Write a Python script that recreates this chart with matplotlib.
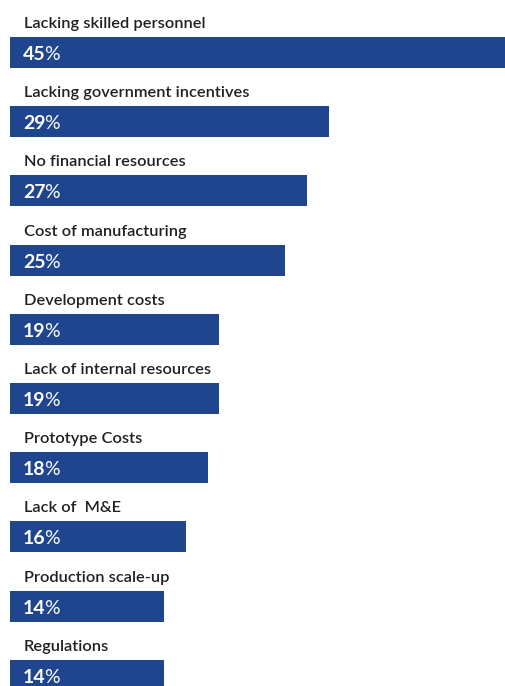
import matplotlib
matplotlib.use("Agg")
import matplotlib.pyplot as plt

categories = [
    "Lacking skilled personnel",
    "Lacking government incentives",
    "No financial resources",
    "Cost of manufacturing",
    "Development costs",
    "Lack of internal resources",
    "Prototype Costs",
    "Lack of  M&E",
    "Production scale-up",
    "Regulations",
]
values = [45, 29, 27, 25, 19, 19, 18, 16, 14, 14]

BAR_COLOR = "#1F458F"
TEXT_COLOR = "#231F20"
W, H, DPI = 505, 686, 100

fig = plt.figure(figsize=(W / DPI, H / DPI), dpi=DPI)
ax = fig.add_axes([0, 0, 1, 1])
ax.set_xlim(-10 / 11, 45)
ax.set_ylim(H, 0)
ax.axis("off")

pitch = 69.2
first_top = 37
bar_h = 31
tops = [first_top + pitch * i for i in range(len(values))]
centers = [t + bar_h / 2 for t in tops]

ax.barh(centers, values, height=bar_h, left=0, color=BAR_COLOR)

renderer = fig.canvas.get_renderer()
x0 = 14 / 11  # label inset from the bar start (px -> data)
for cat, v, t, c in zip(categories, values, tops, centers):
    ax.text(x0, t - 9, cat, fontsize=11.8, family="Lato", weight="semibold",
            color=TEXT_COLOR, ha="left", va="baseline")
    num = ax.text(x0 - 0.09, t + 23, f"{v}", fontsize=14, family="Lato",
                  weight="bold", color="white", ha="left", va="baseline")
    bb = num.get_window_extent(renderer)
    xr = ax.transData.inverted().transform((bb.x1, 0))[0]
    ax.text(xr - 0.12, t + 23, "%", fontsize=14, family="Lato", weight="normal",
            color="white", ha="left", va="baseline")

fig.savefig("out.png", dpi=DPI)
